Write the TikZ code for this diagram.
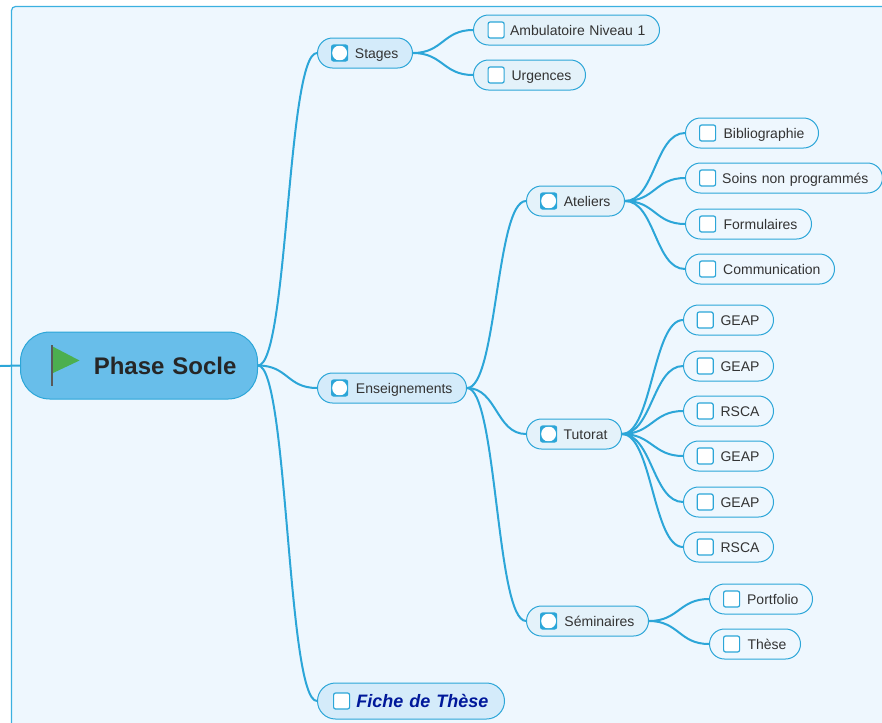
\documentclass[tikz,border=0pt]{standalone}
\usepackage{fontspec}
\setmainfont{Liberation Sans}
\usetikzlibrary{positioning}
\definecolor{sheet}{HTML}{EEF7FE}
\definecolor{sheetline}{HTML}{3BB0E0}
\definecolor{linkblue}{HTML}{2CA6D8}
\definecolor{rootfill}{HTML}{68BEEA}
\definecolor{midfill}{HTML}{D4EBFA}
\definecolor{subfill}{HTML}{E4F2FA}
\definecolor{ink}{HTML}{333333}
\definecolor{navy}{HTML}{00189A}
\definecolor{flag}{HTML}{4CAF50}
\tikzset{
    x=0.75pt,y=-0.75pt,
    every edge/.append style={draw=linkblue,line width=1.5pt,out=0,in=180,out distance=22.5pt,in distance=22.5pt},
    pill/.style={rectangle, draw=linkblue, line width=0.75pt, rounded corners=11.25pt, anchor=west,
        minimum height=22.5pt, inner ysep=0pt, inner xsep=10.5pt, align=right, text=ink,
        font=\fontsize{10.5}{12}\selectfont, text height=9pt, text depth=1.2pt,
        text width={(#1-29)*0.75pt}},
    leaf/.style={pill=#1, fill=sheet},
    sub/.style={pill=#1, fill=subfill},
    mid/.style={pill=#1, fill=midfill},
    box/.style={rectangle, draw=linkblue, line width=0.9pt, rounded corners=1.5pt, fill=white, minimum size=12pt, inner sep=0pt},
    tick/.style={box, fill=linkblue, path picture={\fill[white] (path picture bounding box.center) circle (5.6pt);}}
}
\begin{document}
\begin{tikzpicture}
    \clip (0,0) rectangle (882,722);
    \draw[sheetline, fill=sheet, line width=0.9pt, rounded corners=3pt] (11.5,6.5) rectangle (900,740);

    \node (root) at (20,365.5) [rectangle, draw=linkblue, line width=0.75pt, fill=rootfill, rounded corners=22pt, anchor=west,
        minimum width=177.75pt, minimum height=50.25pt, inner sep=0pt, text width=146.25pt, align=right,
        font=\fontsize{18}{20}\selectfont\bfseries, text=black!85] {Phase Socle};
    \coordinate (stub) at (0,366);
    \draw[linkblue, line width=1.5pt] (stub) -- (root.west);
    \fill[flag] (53,346.7) -- (79.5,360.5) -- (53,373) -- cycle;
    \draw[black!65, line width=0.9pt] (52,345) -- (52,385.5);

    \node (stages) at (317,53) [mid=96] {Stages};
    \node (ensei) at (317,388) [mid=150] {Enseignements};
    \node (fiche) at (317,701) [mid=188, rounded corners=13.5pt, minimum height=27pt, inner xsep=12pt, text width=116.25pt,
        text height=11pt, text depth=1.3pt, text=navy, font=\fontsize{13.5}{15}\selectfont\bfseries\itshape] {Fiche de Thèse};

    \node (ambu) at (473,30) [sub=187] {Ambulatoire Niveau 1};
    \node (urg) at (473,75) [sub=113] {Urgences};

    \node (atel) at (526,201) [sub=99] {Ateliers};
    \node (tuto) at (526,434) [sub=96] {Tutorat};
    \node (semi) at (526,621) [sub=123] {Séminaires};

    \node (biblio) at (685,133) [leaf=134] {Bibliographie};
    \node (soins) at (685,178) [leaf=198] {Soins non programmés};
    \node (form) at (685,224) [leaf=127] {Formulaires};
    \node (comm) at (685,269) [leaf=150] {Communication};

    \node (geap1) at (683,320) [leaf=91] {GEAP};
    \node (geap2) at (683,366) [leaf=91] {GEAP};
    \node (rsca1) at (683,411) [leaf=91] {RSCA};
    \node (geap3) at (683,456) [leaf=91] {GEAP};
    \node (geap4) at (683,502) [leaf=91] {GEAP};
    \node (rsca2) at (683,547) [leaf=91] {RSCA};

    \node (port) at (709,599) [leaf=104] {Portfolio};
    \node (these) at (709,644) [leaf=92] {Thèse};

    % icons
    \node (istages) [tick, right=10.5pt of stages.west] {};
    \node (iensei) [tick, right=10.5pt of ensei.west] {};
    \node (iatel) [tick, right=10.5pt of atel.west] {};
    \node (ituto) [tick, right=10.5pt of tuto.west] {};
    \node (isemi) [tick, right=10.5pt of semi.west] {};
    \node (ifiche) [box, right=12pt of fiche.west] {};
    \node (iambu) [box, right=10.9pt of ambu.west] {};
    \node (iurg) [box, right=10.9pt of urg.west] {};
    \node (ibiblio) [box, right=10.5pt of biblio.west] {};
    \node (isoins) [box, right=10.5pt of soins.west] {};
    \node (iform) [box, right=10.5pt of form.west] {};
    \node (icomm) [box, right=10.5pt of comm.west] {};
    \node (igeap1) [box, right=10.2pt of geap1.west] {};
    \node (igeap2) [box, right=10.2pt of geap2.west] {};
    \node (irsca1) [box, right=10.2pt of rsca1.west] {};
    \node (igeap3) [box, right=10.2pt of geap3.west] {};
    \node (igeap4) [box, right=10.2pt of geap4.west] {};
    \node (irsca2) [box, right=10.2pt of rsca2.west] {};
    \node (iport) [box, right=10.5pt of port.west] {};
    \node (ithese) [box, right=10.5pt of these.west] {};

    \path (root) edge (stages);
    \path (root) edge (ensei);
    \path (root) edge (fiche);
    \path (stages) edge (ambu);
    \path (stages) edge (urg);
    \path (ensei) edge (atel);
    \path (ensei) edge (tuto);
    \path (ensei) edge (semi);
    \path (atel) edge (biblio);
    \path (atel) edge (soins);
    \path (atel) edge (form);
    \path (atel) edge (comm);
    \path (tuto) edge (geap1);
    \path (tuto) edge (geap2);
    \path (tuto) edge (rsca1);
    \path (tuto) edge (geap3);
    \path (tuto) edge (geap4);
    \path (tuto) edge (rsca2);
    \path (semi) edge (port);
    \path (semi) edge (these);
\end{tikzpicture}
\end{document}
